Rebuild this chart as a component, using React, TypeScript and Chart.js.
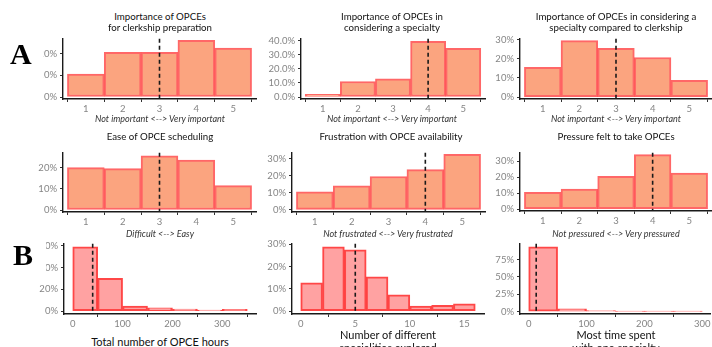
import React, { useEffect, useRef } from "react";
import { Chart, registerables } from "chart.js";

Chart.register(...registerables);

// ---------- data ----------
const likertBins = [1, 2, 3, 4, 5];
const likertTicks = [1, 2, 3, 4, 5];

const clerkshipPrepPct = [10.5, 20.5, 20.5, 26, 22.5];
const specialtyImportancePct = [2, 11, 13, 39.5, 34.5];
const specialtyVsClerkshipPct = [15.5, 29.5, 25.5, 20.7, 8.8];
const easeSchedulingPct = [20, 19.5, 25.5, 23.5, 11.5];
const frustrationPct = [10.5, 14, 19.5, 23.5, 32.5];
const pressurePct = [10.5, 12.5, 20.5, 34, 22.5];

const hoursBinStarts = [0, 50, 100, 150, 200, 250, 300];
const hoursBinWidth = 50;
const hoursPct = [59, 30, 4.5, 3, 1.7, 0.8, 1.5];
const hoursTicks = [0, 100, 200, 300];

const specialtiesBinStarts = [0, 2, 4, 6, 8, 10, 12, 14];
const specialtiesBinWidth = 2;
const specialtiesPct = [12.7, 28.8, 27.5, 15.3, 7.3, 2.2, 2.6, 3.3];
const specialtiesTicks = [0, 5, 10, 15];

const timeBinStarts = [0, 50, 100, 150, 200, 250];
const timeBinWidth = 50;
const timePct = [93, 4, 1.5, 0.5, 0.5, 0.5];
const timeTicks = [0, 100, 200, 300];

const medians = [3, 4, 3, 3, 4, 4, 40, 5, 13];

const yTicks20 = [0, 10, 20];
const yTicks40 = [0, 10, 20, 30, 40];
const yTicks30 = [0, 10, 20, 30];
const yTicks60 = [0, 20, 40, 60];
const yTicks75 = [0, 25, 50, 75];

// ---------- styles ----------
const LIKERT_FILL = "#FBA47F";
const LIKERT_STROKE = "rgba(255,60,60,0.78)";
const HIST_FILL = "#FFA2A2";
const HIST_STROKE = "rgba(255,45,45,0.88)";
const FONT = "Lato, 'Open Sans', sans-serif";

const medianLine = {
  id: "medianLine",
  afterDatasetsDraw(chart: any, _args: any, opts: any) {
    const x = chart.scales.x.getPixelForValue(opts.value);
    const { top, bottom } = chart.chartArea;
    const ctx = chart.ctx;
    ctx.save();
    ctx.setLineDash([4, 3]);
    ctx.strokeStyle = "#1a1a1a";
    ctx.lineWidth = 1.6;
    ctx.beginPath();
    ctx.moveTo(x, top);
    ctx.lineTo(x, bottom);
    ctx.stroke();
    ctx.restore();
  },
};

type PanelProps = {
  left: number;
  top: number;
  right: number;
  bottom: number;
  xMin: number;
  xMax: number;
  xTicks: number[];
  yMin: number;
  yMax: number;
  yTicks: number[];
  xs: number[];
  ys: number[];
  median: number;
  fill: string;
  stroke: string;
  decimals?: boolean;
};

function Panel(p: PanelProps) {
  const ref = useRef<HTMLCanvasElement>(null);
  const PADL = 50;
  const PADT = 8;
  const PADB = 18;
  const cLeft = p.left - PADL;
  const cTop = p.top - PADT;
  const cRight = Math.min(712, p.right + 3);
  const w = cRight - cLeft;
  const h = p.bottom - cTop + PADB;

  useEffect(() => {
    const axisCommon = {
      grid: {
        display: true,
        drawOnChartArea: false,
        drawTicks: true,
        tickLength: 3,
        tickColor: "#333",
        tickWidth: 1,
      },
      border: { display: true, color: "#1a1a1a", width: 1.4 },
    };
    const chart = new Chart(ref.current as HTMLCanvasElement, {
      type: "bar",
      data: {
        datasets: [
          {
            data: p.xs.map((x, i) => ({ x, y: p.ys[i] })),
            backgroundColor: p.fill,
            borderColor: p.stroke,
            borderWidth: 2,
            borderSkipped: false,
            barPercentage: 1,
            categoryPercentage: 1,
          } as any,
        ],
      },
      options: {
        animation: false,
        responsive: false,
        maintainAspectRatio: false,
        events: [],
        layout: {
          autoPadding: false,
          padding: { left: 0, top: PADT, right: cRight - p.right, bottom: 0 },
        },
        plugins: {
          legend: { display: false },
          tooltip: { enabled: false },
          title: { display: false },
          medianLine: { value: p.median },
        } as any,
        scales: {
          x: {
            type: "linear",
            min: p.xMin,
            max: p.xMax,
            offset: false,
            afterBuildTicks: (s: any) => {
              s.ticks = p.xTicks.map((v) => ({ value: v }));
            },
            afterFit: (s: any) => {
              s.height = PADB;
            },
            ...axisCommon,
            ticks: {
              padding: 1.5,
              color: "#858585",
              font: { family: FONT, size: 9.5 },
              maxRotation: 0,
              autoSkip: false,
              callback: (v: any) => String(v),
            },
          },
          y: {
            type: "linear",
            min: p.yMin,
            max: p.yMax,
            afterBuildTicks: (s: any) => {
              s.ticks = p.yTicks.map((v) => ({ value: v }));
            },
            afterFit: (s: any) => {
              s.width = PADL;
            },
            ...axisCommon,
            ticks: {
              padding: 3,
              color: "#858585",
              font: { family: FONT, size: 9.5 },
              autoSkip: false,
              callback: (v: any) =>
                p.decimals ? Number(v).toFixed(1) + "%" : String(v) + "%",
            },
          },
        } as any,
      },
      plugins: [medianLine],
    });
    return () => chart.destroy();
  }, []);

  return (
    <canvas
      ref={ref}
      width={w}
      height={h}
      style={{ position: "absolute", left: cLeft, top: cTop, width: w, height: h }}
    />
  );
}

function Txt(props: {
  x: number;
  y: number;
  text: string;
  size: number;
  italic?: boolean;
  color?: string;
}) {
  return (
    <div
      style={{
        position: "absolute",
        left: props.x,
        top: props.y,
        transform: "translate(-50%, -50%)",
        whiteSpace: "nowrap",
        fontFamily: FONT,
        fontSize: props.size,
        fontStyle: props.italic ? "italic" : "normal",
        color: props.color || "#111",
        lineHeight: 1,
      }}
    >
      {props.text}
    </div>
  );
}

function Letter(props: { x: number; y: number; w: number; h: number; boxTop: number; text: string }) {
  return (
    <div
      style={{
        position: "absolute",
        left: 0,
        top: props.boxTop,
        width: props.w,
        height: props.h,
        background: "#fff",
      }}
    >
      <div
        style={{
          position: "absolute",
          left: props.x,
          top: props.y - props.boxTop,
          fontFamily: "'Liberation Serif', 'Times New Roman', serif",
          fontWeight: "bold",
          fontSize: 30,
          lineHeight: 1,
          color: "#000",
        }}
      >
        {props.text}
      </div>
    </div>
  );
}

const centers = (starts: number[], width: number) => starts.map((s) => s + width / 2);

export default function App() {
  return (
    <div
      style={{
        position: "absolute",
        left: 0,
        top: 0,
        width: 712,
        height: 347,
        overflow: "hidden",
        background: "#fff",
      }}
    >
      {/* Row 1 */}
      <Panel left={63} top={38} right={256} bottom={99} xMin={0.38} xMax={5.62} xTicks={likertTicks}
        yMin={-0.9} yMax={26.8} yTicks={yTicks20} xs={likertBins} ys={clerkshipPrepPct}
        median={medians[0]} fill={LIKERT_FILL} stroke={LIKERT_STROKE} />
      <Panel left={301} top={38} right={485} bottom={99} xMin={0.38} xMax={5.62} xTicks={likertTicks}
        yMin={-1.4} yMax={41.4} yTicks={yTicks40} xs={likertBins} ys={specialtyImportancePct}
        median={medians[1]} fill={LIKERT_FILL} stroke={LIKERT_STROKE} decimals />
      <Panel left={520} top={38} right={712} bottom={99} xMin={0.38} xMax={5.62} xTicks={likertTicks}
        yMin={-1.0} yMax={30.5} yTicks={yTicks30} xs={likertBins} ys={specialtyVsClerkshipPct}
        median={medians[2]} fill={LIKERT_FILL} stroke={LIKERT_STROKE} />

      {/* Row 2 */}
      <Panel left={63} top={152} right={256} bottom={212} xMin={0.38} xMax={5.62} xTicks={likertTicks}
        yMin={-0.93} yMax={27} yTicks={yTicks20} xs={likertBins} ys={easeSchedulingPct}
        median={medians[3]} fill={LIKERT_FILL} stroke={LIKERT_STROKE} />
      <Panel left={292} top={152} right={485} bottom={212} xMin={0.38} xMax={5.62} xTicks={likertTicks}
        yMin={-1.2} yMax={33.4} yTicks={yTicks30} xs={likertBins} ys={frustrationPct}
        median={medians[4]} fill={LIKERT_FILL} stroke={LIKERT_STROKE} />
      <Panel left={520} top={152} right={712} bottom={211} xMin={0.38} xMax={5.62} xTicks={likertTicks}
        yMin={-1.2} yMax={35.2} yTicks={yTicks30} xs={likertBins} ys={pressurePct}
        median={medians[5]} fill={LIKERT_FILL} stroke={LIKERT_STROKE} />

      {/* Row 3 */}
      <Panel left={64} top={243} right={256} bottom={314} xMin={-17.5} xMax={367.5} xTicks={hoursTicks}
        yMin={-2.7} yMax={61.8} yTicks={yTicks60} xs={centers(hoursBinStarts, hoursBinWidth)} ys={hoursPct}
        median={medians[6]} fill={HIST_FILL} stroke={HIST_STROKE} />
      <Panel left={292} top={243} right={484} bottom={314} xMin={-0.8} xMax={16.8} xTicks={specialtiesTicks}
        yMin={-1.3} yMax={30.2} yTicks={yTicks30} xs={centers(specialtiesBinStarts, specialtiesBinWidth)} ys={specialtiesPct}
        median={medians[7]} fill={HIST_FILL} stroke={HIST_STROKE} />
      <Panel left={520} top={243} right={712} bottom={314} xMin={-15} xMax={315} xTicks={timeTicks}
        yMin={-3.3} yMax={97.6} yTicks={yTicks75} xs={centers(timeBinStarts, timeBinWidth)} ys={timePct}
        median={medians[8]} fill={HIST_FILL} stroke={HIST_STROKE} />

      {/* Titles row 1 */}
      <Txt x={160} y={17} size={9.7} text="Importance of OPCEs" />
      <Txt x={160} y={28} size={9.7} text="for clerkship preparation" />
      <Txt x={392} y={17} size={9.7} text="Importance of OPCEs in" />
      <Txt x={392} y={28} size={9.7} text="considering a specialty" />
      <Txt x={616} y={17} size={9.7} text="Importance of OPCEs in considering a" />
      <Txt x={616} y={28} size={9.7} text="specialty compared to clerkship" />
      <Txt x={160} y={118} size={9} italic color="#333" text="Not important <--> Very important" />
      <Txt x={392} y={118} size={9} italic color="#333" text="Not important <--> Very important" />
      <Txt x={616} y={118} size={9} italic color="#333" text="Not important <--> Very important" />

      {/* Titles row 2 */}
      <Txt x={160} y={137} size={9.7} text="Ease of OPCE scheduling" />
      <Txt x={391} y={137} size={9.7} text="Frustration with OPCE availability" />
      <Txt x={616} y={137} size={9.7} text="Pressure felt to take OPCEs" />
      <Txt x={160} y={233} size={9} italic color="#333" text="Difficult <--> Easy" />
      <Txt x={388} y={233} size={9} italic color="#333" text="Not frustrated <--> Very frustrated" />
      <Txt x={616} y={233} size={9} italic color="#333" text="Not pressured <--> Very pressured" />

      {/* Row 3 axis titles */}
      <Txt x={160} y={341} size={11} text="Total number of OPCE hours" />
      <Txt x={388} y={334} size={11} text="Number of different" />
      <Txt x={388} y={347} size={11} text="specialities explored" />
      <Txt x={616} y={334} size={11} text="Most time spent" />
      <Txt x={616} y={347} size={11} text="with one specialty" />

      {/* Panel letters */}
      <Letter text="A" boxTop={40} w={43} h={40} x={10} y={39} />
      <Letter text="B" boxTop={238} w={46} h={37} x={13} y={240} />
    </div>
  );
}
